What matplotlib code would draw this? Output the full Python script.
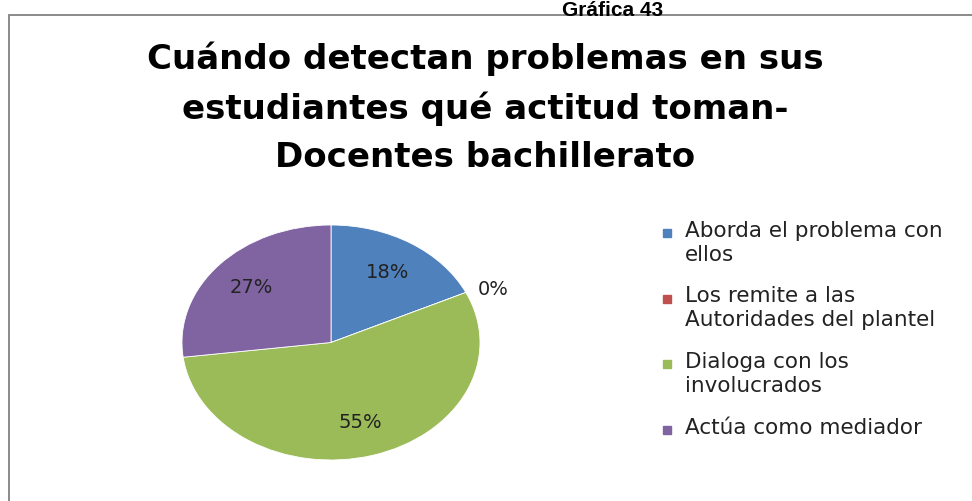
import matplotlib.pyplot as plt
from matplotlib.patches import Rectangle

plt.rcParams["font.family"] = "DejaVu Sans"

# datos de la grafica
categorias = ["Aborda el problema con\nellos",
              "Los remite a las\nAutoridades del plantel",
              "Dialoga con los\ninvolucrados",
              "Actúa como mediador"]
porcentajes = [18, 0, 55, 27]
colores = ["#4F81BD", "#C0504D", "#9BBB59", "#8064A2"]

titulo = "Cuándo detectan problemas en sus\nestudiantes qué actitud toman-\nDocentes bachillerato"
encabezado = "Gráfica 43"

W, H = 972, 501
fig = plt.figure(figsize=(W / 100, H / 100), dpi=100)

# marco del grafico (se sale por la derecha y por abajo)
fig.patches.append(Rectangle((9 / W, -0.1), 1.1, 1.1 - 15 / H,
                             transform=fig.transFigure, fill=False,
                             edgecolor="#8a8a8a", lw=1.4))
fig.text(613 / W, 1 - 0.5 / H, encabezado, ha="center", va="top",
         fontsize=15, fontweight="bold", family="Liberation Sans")

fig.text(485 / W, 1 - 42 / H, titulo, ha="center", va="top",
         fontsize=24.5, fontweight="bold", linespacing=1.56)

# pastel (ligeramente eliptico como en la imagen)
ax = fig.add_axes([182 / W, 1 - 460 / H, 298 / W, 235 / H])
wedges, texts, autotexts = ax.pie(porcentajes, colors=colores, startangle=90,
                                  counterclock=False, autopct="%1.0f%%",
                                  pctdistance=0.71,
                                  wedgeprops=dict(edgecolor="white", lw=0.6),
                                  textprops=dict(fontsize=14, color="#222222"))
ax.set_aspect("auto")
ax.set_xlim(-1, 1)
ax.set_ylim(-1, 1)
for val, t in zip(porcentajes, autotexts):
    if val == 0:
        x, y = t.get_position()
        t.set_position((x / 0.71 * 1.2, y / 0.71 * 1.05))

# leyenda
for i, (cat, col) in enumerate(zip(categorias, colores)):
    y = 233 + i * 65.5
    fig.patches.append(Rectangle((663 / W, 1 - (y + 4) / H), 8 / W, 8 / H,
                                 transform=fig.transFigure, color=col))
    fig.text(685 / W, 1 - (y - 12) / H, cat, ha="left", va="top",
             fontsize=15.5, color="#222222", linespacing=1.25)

fig.savefig("out.png", dpi=100)
